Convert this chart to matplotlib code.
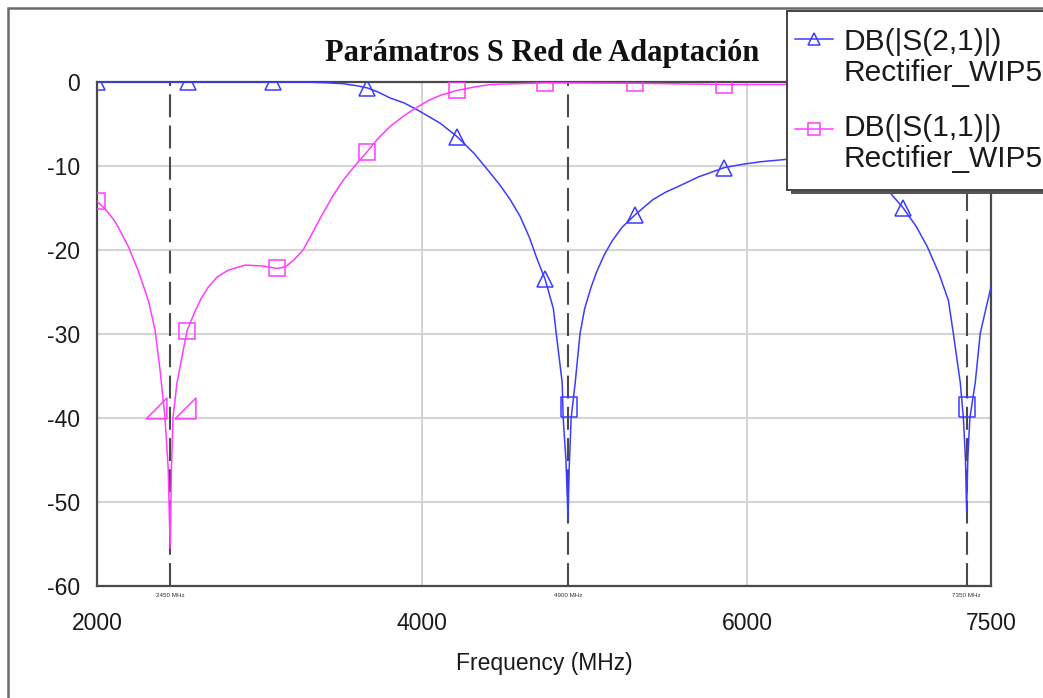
import numpy as np
import matplotlib.pyplot as plt
from matplotlib.patches import Rectangle
from matplotlib.lines import Line2D

# DB(|S(2,1)|)
s21_freq = [2000, 2560, 3083, 3300, 3400, 3514, 3600, 3662, 3730, 3803, 3890, 3969,
            4040, 4111, 4215, 4320, 4418, 4480, 4542, 4603, 4660, 4706, 4757, 4808,
            4825, 4862, 4868, 4885, 4898, 4905, 4917, 4942, 4972, 5000, 5040, 5074,
            5120, 5170, 5230, 5311, 5420, 5500, 5569, 5700, 5858, 5970, 6080, 6246,
            6410, 6560, 6720, 6880, 6960, 7040, 7108, 7180, 7238, 7268, 7311, 7330,
            7343, 7350, 7357, 7370, 7403, 7434, 7477, 7500]
s21_db = [0.0, 0.0, 0.0, -0.02, -0.08, -0.2, -0.45, -0.7, -1.2, -1.9, -2.5, -3.3,
          -4.1, -4.9, -6.5, -8.5, -10.8, -12.3, -14.0, -16.0, -18.5, -21.0, -23.5, -27.0,
          -29.9, -35.8, -40.0, -45.0, -52.0, -46.0, -40.0, -35.8, -29.9, -27.0, -24.4, -22.6,
          -20.6, -18.9, -17.3, -15.8, -14.0, -13.1, -12.5, -11.3, -10.2, -9.8, -9.5, -9.2,
          -9.1, -9.6, -11.0, -13.2, -15.0, -17.2, -19.6, -22.8, -26.0, -29.9, -35.8, -40.0,
          -45.0, -51.0, -45.0, -40.0, -35.8, -29.9, -26.3, -24.4]
s21_mark_freq = [2000, 2560, 3083, 3662, 4215, 4757, 5311, 5858, 6410, 6960]

# DB(|S(1,1)|)
s11_freq = [2000, 2050, 2111, 2150, 2193, 2254, 2316, 2357, 2388, 2418, 2438, 2450,
            2458, 2468, 2492, 2520, 2554, 2603, 2640, 2685, 2740, 2808, 2911, 3020,
            3108, 3160, 3210, 3268, 3330, 3391, 3450, 3514, 3590, 3662, 3730, 3803,
            3890, 3969, 4040, 4111, 4215, 4320, 4418, 4757, 5311, 5858, 6410, 6960, 7500]
s11_db = [-14.2, -15.1, -16.6, -18.0, -19.6, -22.5, -26.0, -29.5, -34.3, -39.9, -46.0, -55.5,
          -46.0, -39.9, -35.8, -33.0, -29.6, -27.3, -25.8, -24.4, -23.2, -22.4, -21.8, -21.9,
          -22.2, -22.0, -21.2, -20.0, -17.8, -15.6, -13.6, -11.7, -9.9, -8.3, -6.7, -5.3,
          -4.0, -3.0, -2.2, -1.6, -1.0, -0.6, -0.3, -0.1, -0.15, -0.3, -0.3, -0.3, -0.3]
s11_mark_freq = [2000, 2554, 3108, 3662, 4215, 4757, 5311, 5858, 6410, 6960]

# marcadores en los minimos
mk_freq = [2450, 4900, 7350]
mk_labels = ['2450 MHz', '4900 MHz', '7350 MHz']
s11_dip_freq = [2363, 2542]
s11_dip_db = [-38.8, -38.8]
s21_dip_freq = [4901, 7352]
s21_dip_db = [-38.7, -38.7]

xticks = [2000, 4000, 6000, 7500]
yticks = [0, -10, -20, -30, -40, -50, -60]

blue = '#3c3cff'
pink = '#ff3cff'
W, H = 1043, 698

def fx(x):
    return x / W

def fy(y):
    return 1 - y / H

plt.rcParams['font.family'] = ['Liberation Sans', 'DejaVu Sans']
plt.rcParams['axes.unicode_minus'] = False
fig = plt.figure(figsize=(W / 100, H / 100), dpi=100)
ax = fig.add_axes([fx(97), fy(586), (991 - 97) / W, (586 - 82) / H])

# marco exterior
fig.add_artist(Rectangle((fx(8), -0.2), 1.3, fy(8) + 0.2, transform=fig.transFigure,
                         fill=False, edgecolor='#6a6a6a', lw=1.8, zorder=0))

ax.set_xlim(2000, 7500)
ax.set_ylim(-60, 0)
ax.set_xticks(xticks)
ax.set_yticks(yticks)
ax.tick_params(length=0, labelsize=16.5, labelcolor='#1a1a1a')
ax.tick_params(axis='y', pad=12)
ax.tick_params(axis='x', pad=19)
ax.grid(True, color='#d4d4d4', lw=1.5)
ax.set_axisbelow(True)
for s in ax.spines.values():
    s.set_color('#4a4a4a')
    s.set_linewidth(1.6)

for f, lab in zip(mk_freq, mk_labels):
    ax.axvline(f, color='#4a4a4a', lw=1.5, ls=(0, (11, 4)), zorder=1.5)
    ax.text(f, -61.1, lab, ha='center', va='center', fontsize=4.5, color='#333333',
            clip_on=False)

i21 = [s21_freq.index(f) for f in s21_mark_freq]
i11 = [s11_freq.index(f) for f in s11_mark_freq]
ax.plot(s21_freq, s21_db, color=blue, lw=1.1, marker='^', markevery=i21,
        ms=12, mfc='none', mew=1.1, zorder=3)
ax.plot(s11_freq, s11_db, color=pink, lw=1.1, marker='s', markevery=i11,
        ms=11, mfc='none', mew=1.1, zorder=3)

tri = [(-1, -1), (1, -1), (1, 1), (-1, -1)]
ax.plot(s11_dip_freq, s11_dip_db, ls='none', marker=tri, ms=15, mfc='none',
        mec=pink, mew=1.1, zorder=3)
rect = [(-0.85, -1), (0.85, -1), (0.85, 1), (-0.85, 1), (-0.85, -1)]
ax.plot(s21_dip_freq, s21_dip_db, ls='none', marker=rect, ms=14, mfc='none',
        mec=blue, mew=1.1, zorder=3)

ax.set_xlabel('Frequency (MHz)', fontsize=16.5, color='#1a1a1a', labelpad=12)

fig.text(fx(542), fy(53), 'Parámatros S Red de Adaptación', ha='center', va='center',
         family='Liberation Serif', fontweight='bold', fontsize=22, color='#111111')

# leyenda
fig.add_artist(Rectangle((fx(791), fy(194)), 0.4, (194 - 15) / H, transform=fig.transFigure,
                         facecolor='#555555', edgecolor='none', zorder=5))
fig.add_artist(Rectangle((fx(787), fy(190)), 0.4, (190 - 11) / H, transform=fig.transFigure,
                         facecolor='white', edgecolor='#444444', lw=1.4, zorder=6))
entries = [(blue, '^', 8, 39, 42), (pink, 's', 9, 129, 128)]
for (c, m, ms, yl, yt), lab in zip(entries, ['DB(|S(2,1)|)', 'DB(|S(1,1)|)']):
    fig.add_artist(Line2D([fx(795), fx(833)], [fy(yl), fy(yl)], transform=fig.transFigure,
                          color=c, lw=1.1, zorder=7))
    fig.add_artist(Line2D([fx(814)], [fy(yl)], transform=fig.transFigure, color=c,
                          marker=m, ms=ms, mfc='none', mew=1.1, zorder=7))
    fig.text(fx(843), fy(yt), lab, ha='left', va='center', fontsize=21.5,
             color='#1a1a1a', zorder=8)
    fig.text(fx(843), fy(yt + 31), 'Rectifier_WIP5', ha='left', va='center',
             fontsize=21.5, color='#1a1a1a', zorder=8)

fig.savefig('out.png', dpi=100)
